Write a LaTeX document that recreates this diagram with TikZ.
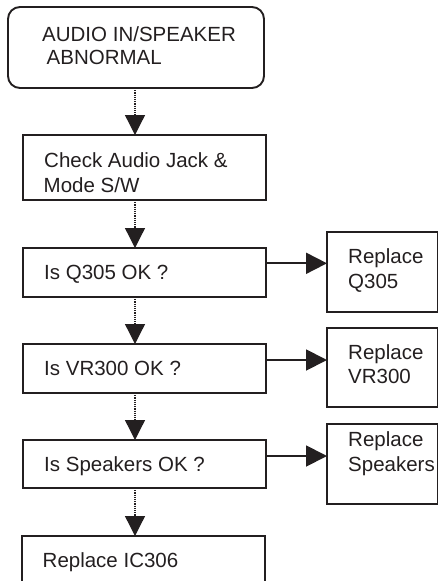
\documentclass[tikz,border=0pt]{standalone}
\usepackage{fontspec}
\setmainfont{Liberation Sans}
\usetikzlibrary{arrows.meta}
\definecolor{ink}{HTML}{231F20}
\begin{document}
\begin{tikzpicture}[x=1pt,y=-1pt,
  box/.style={draw=ink, line width=1.9pt, inner sep=0pt, outer sep=0pt, anchor=north west},
  txt/.style={anchor=base west, inner sep=0pt, font=\fontsize{20.5}{24}\selectfont, text=ink},
  flow/.style={draw=ink, line width=1.3pt, dash pattern=on 1.2pt off 1pt, -{Triangle[length=20pt,width=20pt]}},
  side/.style={draw=ink, line width=1.9pt, -{Triangle[length=21pt,width=21pt]}}]
\useasboundingbox (0,0) rectangle (439,581);
\clip (0,0) rectangle (439,581);
% boxes
\node[box, minimum width=256pt, minimum height=81pt, rounded corners=12pt] (n1) at (8,7) {};
\node[box, minimum width=243pt, minimum height=65pt] (n2) at (23,135) {};
\node[box, minimum width=243pt, minimum height=49pt] (n3) at (23,248) {};
\node[box, minimum width=243pt, minimum height=49pt] (n4) at (23,344) {};
\node[box, minimum width=243pt, minimum height=48pt] (n5) at (23,440) {};
\node[box, minimum width=243pt, minimum height=70pt] (n6) at (22,536) {};
\node[box, minimum width=110.5pt, minimum height=80pt] (r1) at (327,232) {};
\node[box, minimum width=110.5pt, minimum height=79pt] (r2) at (327,328) {};
\node[box, minimum width=110.5pt, minimum height=80pt] (r3) at (327,424) {};
% texts
\node[txt] (t1a) at (42,41) {AUDIO IN/SPEAKER};
\node[txt] (t1b) at (46.5,64.5) {ABNORMAL};
\node[txt] (t2a) at (44,167) {Check Audio Jack \&};
\node[txt] (t2b) at (43.5,192) {Mode S/W};
\node[txt] (t3) at (44,279) {Is Q305 OK ?};
\node[txt] (t4) at (44,375) {Is VR300 OK ?};
\node[txt] (t5) at (44,471) {Is Speakers OK ?};
\node[txt] (t6) at (42.5,567.5) {Replace IC306};
\node[txt] (u1a) at (348,263.5) {Replace};
\node[txt] (u1b) at (348,288.5) {Q305};
\node[txt] (u2a) at (348,359.5) {Replace};
\node[txt] (u2b) at (348,383.5) {VR300};
\node[txt] (u3a) at (348,446.5) {Replace};
\node[txt] (u3b) at (348,471.5) {Speakers};
% connectors
\coordinate (ax) at (135,0);
\draw[flow] (n1.south -| ax) -- (n2.north -| ax);
\draw[flow] (n2.south -| ax) -- (n3.north -| ax);
\draw[flow] (n3.south -| ax) -- (n4.north -| ax);
\draw[flow] (n4.south -| ax) -- (n5.north -| ax);
\draw[flow] (n5.south -| ax) -- (n6.north -| ax);
\coordinate (y1) at (0,263.3);
\coordinate (y2) at (0,360);
\coordinate (y3) at (0,456);
\draw[side] (n3.east |- y1) -- (r1.west |- y1);
\draw[side] (n4.east |- y2) -- (r2.west |- y2);
\draw[side] (n5.east |- y3) -- (r3.west |- y3);
\end{tikzpicture}
\end{document}
